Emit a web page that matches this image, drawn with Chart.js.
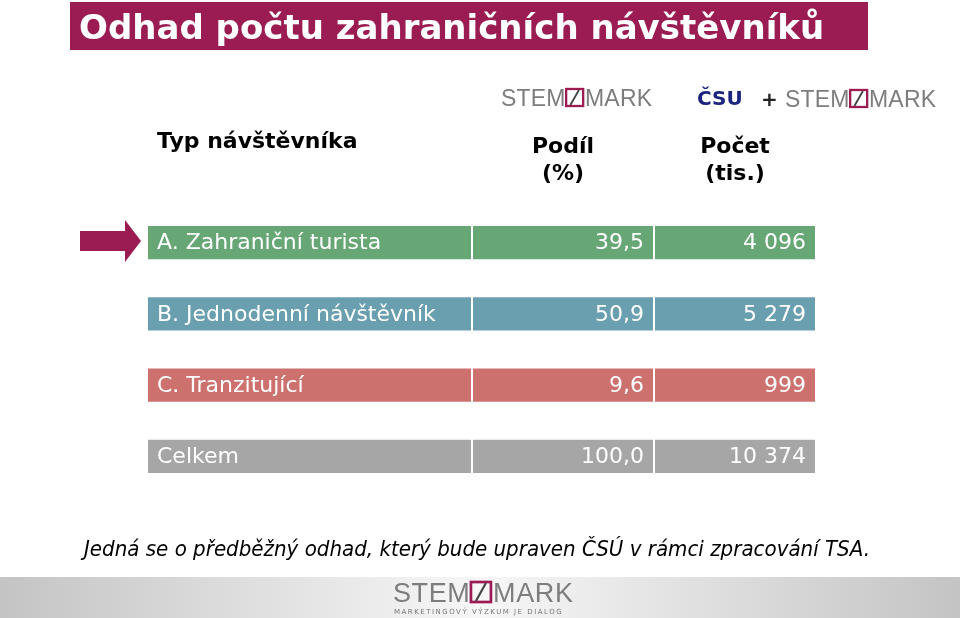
<!DOCTYPE html>
<html>
<head>
<meta charset="utf-8">
<script src="https://cdn.jsdelivr.net/npm/chart.js@4"></script>
<style>
  html, body { margin: 0; padding: 0; background: #fff; }
  #wrap { width: 960px; height: 618px; position: relative; }
</style>
</head>
<body>
<div id="wrap"><canvas id="tableChart" width="960" height="618"></canvas></div>
<script>
// =====================
// DATA
// =====================
const categories = ['A. Zahraniční turista', 'B. Jednodenní návštěvník', 'C. Tranzitující', 'Celkem'];
const shareValues = [39.5, 50.9, 9.6, 100.0];      // Podíl (%)
const countValues = [4096, 5279, 999, 10374];      // Počet (tis.)
const rowColors = ['#67a776', '#699fae', '#cc716d', '#a6a6a6'];

// column edges of the table (px on a 0..960 axis)
const colLabel = [148, 471];
const colShare = [473, 653];
const colCount = [655, 815];

const MAGENTA = '#9a1c52';

function fmtShare(v) {
  return v.toFixed(1).replace('.', ',');
}
function fmtCount(v) {
  return String(v).replace(/\B(?=(\d{3})+(?!\d))/g, ' ');
}

// =====================
// LOGO HELPERS
// =====================
function drawStemmark(ctx, x, y, size, spacing) {
  // y = baseline
  ctx.save();
  ctx.font = `${size}px "Liberation Sans", Arial, sans-serif`;
  ctx.letterSpacing = spacing + 'px';
  ctx.fillStyle = '#7d7d7d';
  ctx.textAlign = 'left';
  ctx.textBaseline = 'alphabetic';
  const w1 = ctx.measureText('STEM').width;
  ctx.fillText('STEM', x, y);
  const box = size * 0.74;
  const bx = x + w1 + size * 0.02;
  const by = y - box;
  ctx.strokeStyle = MAGENTA;
  ctx.lineWidth = Math.max(1.5, size * 0.1);
  ctx.strokeRect(bx, by, box, box);
  ctx.strokeStyle = '#444';
  ctx.lineWidth = Math.max(1, size * 0.08);
  ctx.beginPath();
  ctx.moveTo(bx + box * 0.25, y - 1);
  ctx.lineTo(bx + box * 0.75, by + 1);
  ctx.stroke();
  ctx.fillText('MARK', bx + box + size * 0.08, y);
  ctx.restore();
}

// =====================
// DECORATION PLUGIN
// =====================
const slidePlugin = {
  id: 'slide',
  beforeDraw(chart) {
    const ctx = chart.ctx;
    ctx.save();
    // title bar
    ctx.fillStyle = MAGENTA;
    ctx.fillRect(70, 2, 798, 48);
    ctx.fillStyle = '#fff';
    ctx.font = 'bold 34px "DejaVu Sans", Verdana, sans-serif';
    ctx.textBaseline = 'alphabetic';
    ctx.fillText('Odhad počtu zahraničních návštěvníků', 79, 39, 748);

    // logos
    drawStemmark(ctx, 501, 106, 23, 0.2);
    ctx.font = 'bold 20px "DejaVu Sans", sans-serif';
    ctx.fillStyle = '#1b2580';
    ctx.fillText('ČSU', 697, 105, 48);
    ctx.fillStyle = '#222';
    ctx.font = 'bold 20px "DejaVu Sans", sans-serif';
    ctx.fillText('+', 761, 106);
    drawStemmark(ctx, 785, 107, 23, 0.2);

    // headers
    ctx.fillStyle = '#000';
    ctx.font = 'bold 22px "DejaVu Sans", Verdana, sans-serif';
    ctx.textAlign = 'left';
    ctx.fillText('Typ návštěvníka', 157, 148, 202);
    ctx.textAlign = 'center';
    ctx.fillText('Podíl', 563, 153);
    ctx.fillText('(%)', 563, 180);
    ctx.fillText('Počet', 735, 153);
    ctx.fillText('(tis.)', 735, 180);

    // arrow
    ctx.fillStyle = MAGENTA;
    ctx.beginPath();
    ctx.moveTo(80, 231);
    ctx.lineTo(125, 231);
    ctx.lineTo(125, 220);
    ctx.lineTo(141, 241);
    ctx.lineTo(125, 262);
    ctx.lineTo(125, 251);
    ctx.lineTo(80, 251);
    ctx.closePath();
    ctx.fill();

    // footnote
    ctx.fillStyle = '#000';
    ctx.font = 'italic 21px "DejaVu Sans", Verdana, sans-serif';
    ctx.textAlign = 'left';
    ctx.fillText('Jedná se o předběžný odhad, který bude upraven ČSÚ v rámci zpracování TSA.', 84, 556, 786);

    // footer band
    const g = ctx.createLinearGradient(0, 0, 960, 0);
    g.addColorStop(0, '#c4c4c4');
    g.addColorStop(0.5, '#f7f7f7');
    g.addColorStop(1, '#c4c4c4');
    ctx.fillStyle = g;
    ctx.fillRect(0, 577, 960, 41);
    drawStemmark(ctx, 393, 602, 27, 0.6);
    ctx.fillStyle = '#777';
    ctx.font = '7px "DejaVu Sans", sans-serif';
    ctx.letterSpacing = '1.5px';
    ctx.textAlign = 'left';
    ctx.fillText('MARKETINGOVÝ VÝZKUM JE DIALOG', 394, 614, 184);
    ctx.letterSpacing = '0px';
    ctx.restore();
  },
  afterDatasetsDraw(chart) {
    const ctx = chart.ctx;
    ctx.save();
    ctx.fillStyle = '#fff';
    ctx.font = '22px "DejaVu Sans", Verdana, sans-serif';
    ctx.textBaseline = 'middle';
    chart.getDatasetMeta(0).data.forEach((bar, i) => {
      ctx.textAlign = 'left';
      ctx.fillText(categories[i], colLabel[0] + 9, bar.y + 1);
    });
    chart.getDatasetMeta(1).data.forEach((bar, i) => {
      ctx.textAlign = 'right';
      ctx.fillText(fmtShare(shareValues[i]), colShare[1] - 9, bar.y + 1);
    });
    chart.getDatasetMeta(2).data.forEach((bar, i) => {
      ctx.textAlign = 'right';
      ctx.fillText(fmtCount(countValues[i]), colCount[1] - 9, bar.y + 1);
    });
    ctx.restore();
  }
};

// =====================
// CHART
// =====================
const cellDataset = (col, label) => ({
  label,
  data: categories.map(() => col),
  backgroundColor: rowColors,
  borderWidth: 0,
  borderSkipped: false,
  grouped: false,
  barPercentage: 0.47,
  categoryPercentage: 1
});

new Chart(document.getElementById('tableChart'), {
  type: 'bar',
  data: {
    labels: categories,
    datasets: [
      cellDataset(colLabel, 'Typ návštěvníka'),
      cellDataset(colShare, 'Podíl (%)'),
      cellDataset(colCount, 'Počet (tis.)')
    ]
  },
  options: {
    indexAxis: 'y',
    responsive: false,
    animation: false,
    layout: { padding: { top: 207, bottom: 126, left: 0, right: 0 } },
    scales: {
      x: { display: false, min: 0, max: 960 },
      y: { display: false, offset: true }
    },
    plugins: {
      legend: { display: false },
      tooltip: { enabled: false }
    }
  },
  plugins: [slidePlugin]
});
</script>
</body>
</html>
